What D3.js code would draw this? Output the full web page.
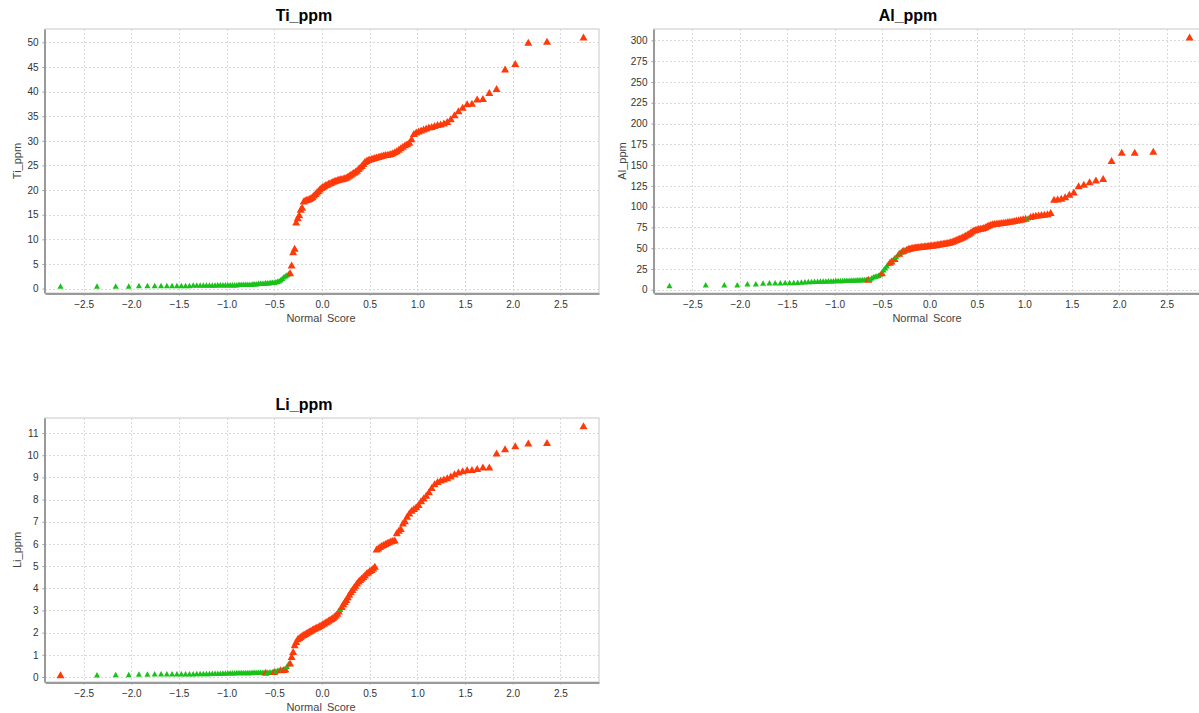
<!DOCTYPE html>
<html>
<head>
<meta charset="utf-8">
<script src="https://cdn.jsdelivr.net/npm/d3@7"></script>
<style>
  body { margin: 0; background: #fff; }
  svg text { font-family: "Liberation Sans", Arial, Helvetica, sans-serif; }
</style>
</head>
<body>
<svg id="chart" width="1199" height="713"></svg>
<script>
// ---- data: sorted concentrations (ppm) for each element, one value per sample rank ----
const xTickValues = [-2.5, -2.0, -1.5, -1.0, -0.5, 0.0, 0.5, 1.0, 1.5, 2.0, 2.5];

const tiValues = [
  0.5,0.5,0.5,0.5,0.6,0.6,0.6,0.6,0.6,0.6,
  0.6,0.6,0.6,0.6,0.7,0.7,0.7,0.7,0.7,0.7,
  0.7,0.7,0.8,0.8,0.8,0.8,0.8,0.8,0.8,0.8,
  0.8,0.9,0.9,0.9,0.9,0.9,0.9,0.9,1.0,1.0,
  1.0,1.1,1.1,1.1,1.1,1.2,1.2,1.2,1.3,1.3,
  1.3,1.4,1.5,1.6,1.8,2.1,2.4,2.6,2.8,3.0,
  3.2,4.8,7.5,8.2,13.5,14.4,15.0,16.1,16.5,17.8,
  18.0,18.1,18.2,18.3,18.5,18.7,19.0,19.3,19.6,19.9,
  20.2,20.5,20.7,20.9,21.1,21.2,21.4,21.5,21.6,21.8,
  21.9,22.0,22.1,22.2,22.3,22.3,22.4,22.5,22.6,22.8,
  23.0,23.2,23.4,23.6,23.8,24.0,24.4,24.7,25.0,25.4,
  25.8,26.0,26.2,26.3,26.4,26.5,26.6,26.7,26.8,26.9,
  27.0,27.1,27.2,27.2,27.3,27.4,27.6,27.8,28.0,28.3,
  28.6,28.9,29.2,29.4,29.7,30.4,31.5,31.8,32.0,32.2,
  32.4,32.6,32.8,32.9,33.1,33.3,33.4,33.6,33.9,34.5,
  35.3,36.1,36.8,37.5,37.6,38.5,38.6,39.8,40.6,44.6,
  45.7,50.0,50.2,51.1
];
// sample group per rank: G = green group, R = red group
const tiGroups = [
  "GGGGGGGGGG","GGGGGGGGGG","GGGGGGGGGG","GGGGGGGGGG","GGGGGGGGGG","GGGGGGGGGG",
  "RRRRRRRRRR","RRRRRRRRRR","RRRRRRRRRR","RRRRRRRRRR","RRRRRRRRRR",
  "RRRRRRRRRR","RRRRRRRRRR","RRRRRRRRRR","RRRRRRRRRR","RRRRRRRRRR","RRRR"
];
const tiTicks = [0, 5, 10, 15, 20, 25, 30, 35, 40, 45, 50];

const alValues = [
  5.2,6.0,6.0,6.1,7.2,7.3,8.2,8.4,8.5,8.5,
  8.6,8.7,8.8,8.9,9.2,9.5,9.8,10.0,10.2,10.3,
  10.4,10.5,10.6,10.7,10.8,10.9,11.0,11.1,11.1,11.2,
  11.3,11.4,11.5,11.6,11.7,11.8,11.9,12.0,12.1,12.3,
  12.4,12.6,12.7,13.0,14.5,15.5,16.2,16.8,17.5,19.0,
  20.5,24.0,26.5,29.0,31.5,33.0,34.5,36.5,37.5,40.0,
  42.0,44.0,45.5,46.5,47.5,48.0,48.8,49.5,50.0,50.4,
  50.8,51.1,51.4,51.6,51.8,52.0,52.2,52.4,52.6,52.8,
  53.0,53.2,53.4,53.6,53.8,54.1,54.4,54.7,55.0,55.3,
  55.6,55.9,56.2,56.5,56.8,57.3,57.9,58.5,59.1,59.8,
  60.5,61.3,62.1,62.9,63.8,64.8,65.8,66.8,68.0,69.3,
  70.6,71.8,72.6,73.2,73.6,74.0,74.4,74.8,75.8,77.0,
  78.0,78.8,79.3,79.6,80.0,80.3,80.6,80.9,81.2,81.6,
  82.0,82.4,82.8,83.3,83.8,84.3,84.8,85.3,86.0,86.6,
  88.0,89.0,89.6,90.0,90.4,90.8,91.5,93.0,108.9,109.3,
  110.0,112.0,115.0,117.7,125.0,127.0,129.8,131.9,133.9,155.6,
  165.3,165.3,166.5,304.0
];
const alGroups = [
  "GGGGGGGGGG","GGGGGGGGGG","GGGGGGGGGG","GGGGGGGGGG","GGRGGGGGGG",
  "RGGGGRRGRG","GRGRRGRRRR","RRRRRRRRRR","RRRRRRRRRR","RRRRRRRRRR",
  "RRRRRRRRRR","RRRRRRRRRR","RRRRRRRRRR","RRRRRRRRRG","RRRRRRRRRR",
  "RRRRRRRRRR","RRRR"
];
const alTicks = [0, 25, 50, 75, 100, 125, 150, 175, 200, 225, 250, 275, 300];

const liValues = [
  0.10,0.10,0.11,0.11,0.14,0.14,0.15,0.15,0.15,0.15,
  0.15,0.15,0.15,0.15,0.15,0.16,0.16,0.16,0.16,0.16,
  0.17,0.17,0.17,0.17,0.18,0.18,0.19,0.19,0.19,0.19,
  0.20,0.20,0.20,0.20,0.20,0.20,0.20,0.20,0.21,0.21,
  0.21,0.21,0.21,0.21,0.22,0.22,0.22,0.23,0.23,0.24,
  0.25,0.27,0.30,0.32,0.33,0.33,0.34,0.36,0.48,0.60,
  0.63,0.93,1.15,1.45,1.60,1.72,1.78,1.83,1.88,1.92,
  1.96,2.00,2.04,2.08,2.11,2.15,2.19,2.22,2.25,2.28,
  2.32,2.36,2.40,2.44,2.48,2.52,2.56,2.60,2.64,2.68,
  2.74,2.80,2.88,2.98,3.06,3.18,3.30,3.40,3.50,3.62,
  3.73,3.84,3.95,4.05,4.14,4.24,4.33,4.40,4.46,4.53,
  4.60,4.69,4.74,4.80,4.85,4.92,5.00,5.77,5.82,5.88,
  5.94,5.98,6.02,6.07,6.10,6.15,6.17,6.18,6.50,6.62,
  6.70,6.95,7.05,7.25,7.40,7.52,7.60,7.68,7.78,7.95,
  8.07,8.20,8.35,8.55,8.72,8.82,8.88,8.93,8.98,9.06,
  9.17,9.25,9.30,9.35,9.36,9.40,9.47,9.47,10.10,10.29,
  10.43,10.55,10.58,11.33
];
const liGroups = [
  "RGGGGGGGGG","GGGGGGGGGG","GGGGGGGGGG","GGGGGGGGGG","GGGGGRGGGG",
  "RGGGRGRRGG","RRRRRRRRRR","RRRRRRRRRR","RRRRRRRRRR","RRRRGRRRRR",
  "RRRRRRRRRR","RRRRRRRRRR","RRRRRRRRRR","RRRRRRRRRR","RRRRRRRRRR",
  "RRRRRRRRRR","RRRR"
];
const liTicks = [0, 1, 2, 3, 4, 5, 6, 7, 8, 9, 10, 11];

// ---- normal score of a rank: standard normal quantile of (i - 0.5) / n ----
function probit(p) {
  const a = [-3.969683028665376e+01, 2.209460984245205e+02, -2.759285104469687e+02,
             1.383577518672690e+02, -3.066479806614716e+01, 2.506628277459239e+00];
  const b = [-5.447609879822406e+01, 1.615858368580409e+02, -1.556989798598866e+02,
             6.680131188771972e+01, -1.328068155288572e+01];
  const c = [-7.784894002430293e-03, -3.223964580411365e-01, -2.400758277161838e+00,
             -2.549732539343734e+00, 4.374664141464968e+00, 2.938163982698783e+00];
  const d = [7.784695709041462e-03, 3.224671290700398e-01, 2.445134137142996e+00,
             3.754408661907416e+00];
  const pl = 0.02425;
  if (p < pl) {
    const q = Math.sqrt(-2 * Math.log(p));
    return (((((c[0]*q+c[1])*q+c[2])*q+c[3])*q+c[4])*q+c[5]) /
           ((((d[0]*q+d[1])*q+d[2])*q+d[3])*q+1);
  }
  if (p > 1 - pl) {
    const q = Math.sqrt(-2 * Math.log(1 - p));
    return -(((((c[0]*q+c[1])*q+c[2])*q+c[3])*q+c[4])*q+c[5]) /
            ((((d[0]*q+d[1])*q+d[2])*q+d[3])*q+1);
  }
  const q = p - 0.5, r = q * q;
  return (((((a[0]*r+a[1])*r+a[2])*r+a[3])*r+a[4])*r+a[5])*q /
         (((((b[0]*r+b[1])*r+b[2])*r+b[3])*r+b[4])*r+1);
}

// ---- layout ----
const panels = [
  { title: "Ti_ppm", values: tiValues, groups: tiGroups.join(""), ticks: tiTicks,
    yDomain: [-0.9, 52.7], box: { left: 45, top: 29, right: 599, bottom: 293 },
    titleX: 304, titleY: 21, yLabelX: 17 },
  { title: "Al_ppm", values: alValues, groups: alGroups.join(""), ticks: alTicks,
    yDomain: [-3.9, 313.7], box: { left: 654, top: 29, right: 1205, bottom: 293 },
    titleX: 908, titleY: 21, yLabelX: 622 },
  { title: "Li_ppm", values: liValues, groups: liGroups.join(""), ticks: liTicks,
    yDomain: [-0.225, 11.68], box: { left: 45, top: 418, right: 599, bottom: 682 },
    titleX: 304, titleY: 410, yLabelX: 17 }
];

const xDomain = [-2.905, 2.905];
const colors = { G: "#19c219", R: "#ff3a0a" };
const sizes = { G: { w: 6, h: 5.5 }, R: { w: 8, h: 7 } };

const svg = d3.select("#chart");

function trianglePath(w, h) {
  return `M0,${-h / 2}L${w / 2},${h / 2}L${-w / 2},${h / 2}Z`;
}

panels.forEach(p => {
  const b = p.box;
  const x = d3.scaleLinear().domain(xDomain).range([b.left, b.right]);
  const y = d3.scaleLinear().domain(p.yDomain).range([b.bottom, b.top]);
  const g = svg.append("g");

  // plot background + outline
  g.append("rect")
    .attr("x", b.left).attr("y", b.top)
    .attr("width", b.right - b.left).attr("height", b.bottom - b.top)
    .attr("fill", "#fff").attr("stroke", "#c8c8c8").attr("stroke-width", 1);

  // grid lines
  g.append("g").selectAll("line").data(xTickValues).join("line")
    .attr("x1", d => Math.round(x(d)) + 0.5).attr("x2", d => Math.round(x(d)) + 0.5)
    .attr("y1", b.top).attr("y2", b.bottom)
    .attr("stroke", "#d9d9d9").attr("stroke-dasharray", "2,2");
  g.append("g").selectAll("line").data(p.ticks).join("line")
    .attr("y1", d => Math.round(y(d)) + 0.5).attr("y2", d => Math.round(y(d)) + 0.5)
    .attr("x1", b.left).attr("x2", b.right)
    .attr("stroke", "#d9d9d9").attr("stroke-dasharray", "2,2");

  // axes
  const xAxis = d3.axisBottom(x).tickValues(xTickValues).tickFormat(d3.format(".1f"))
    .tickSizeInner(2).tickSizeOuter(0).tickPadding(5);
  const yAxis = d3.axisLeft(y).tickValues(p.ticks).tickFormat(d3.format("d"))
    .tickSizeInner(2).tickSizeOuter(0).tickPadding(4);

  const gx = g.append("g").attr("transform", `translate(0,${b.bottom + 0.5})`).call(xAxis);
  const gy = g.append("g").attr("transform", `translate(${b.left - 0.5},0)`).call(yAxis);
  [gx, gy].forEach(a => {
    a.select(".domain").attr("stroke", "#9a9a9a").attr("stroke-width", 2);
    a.selectAll(".tick line").attr("stroke", "#9a9a9a");
    a.selectAll(".tick text").attr("fill", "#333").attr("font-size", 10)
      .attr("font-family", "\"Liberation Sans\", Arial, sans-serif");
  });

  // points
  const n = p.values.length;
  const pts = p.values.map((v, i) => ({
    score: probit((i + 1 - 0.5) / n),
    value: v,
    group: p.groups[i]
  }));
  g.append("g").selectAll("path").data(pts).join("path")
    .attr("transform", d => `translate(${x(d.score)},${y(d.value)})`)
    .attr("d", d => trianglePath(sizes[d.group].w, sizes[d.group].h))
    .attr("fill", d => colors[d.group]);

  // titles and axis labels
  svg.append("text").attr("x", p.titleX).attr("y", p.titleY)
    .attr("text-anchor", "middle").attr("font-size", 16).attr("font-weight", "bold")
    .attr("fill", "#000").text(p.title);
  svg.append("text").attr("x", (b.left + Math.min(b.right, 1202)) / 2 - 1).attr("y", b.bottom + 29)
    .attr("text-anchor", "middle").attr("font-size", 11).attr("fill", "#444")
    .attr("word-spacing", 2).text("Normal Score");
  svg.append("text")
    .attr("transform", `translate(${p.yLabelX + 4},${(b.top + b.bottom) / 2}) rotate(-90)`)
    .attr("text-anchor", "middle").attr("font-size", 11).attr("fill", "#444").text(p.title);
});
</script>
</body>
</html>
